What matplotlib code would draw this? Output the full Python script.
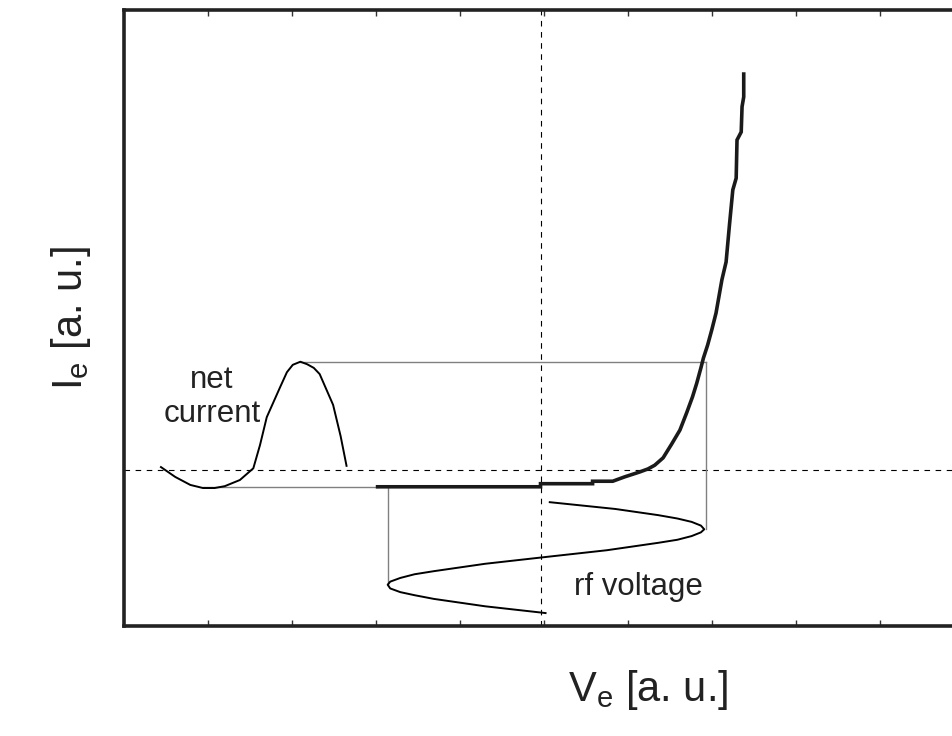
import matplotlib.pyplot as plt

plt.rcParams['font.family'] = ['Liberation Sans', 'DejaVu Sans']
plt.rcParams['mathtext.fontset'] = 'custom'
plt.rcParams['mathtext.rm'] = 'Liberation Sans'

# probe characteristic (thick curve), V and I in arbitrary units
iv_v = [3.02, 4.96, 4.96, 5.58, 5.58, 5.82, 5.96, 6.14, 6.24, 6.32, 6.42, 6.52,
        6.62, 6.70, 6.77, 6.82, 6.87, 6.90, 6.95, 7.00, 7.05, 7.12, 7.17, 7.21,
        7.25, 7.29, 7.30, 7.35, 7.36, 7.38, 7.38]
iv_i = [2.26, 2.26, 2.31, 2.31, 2.35, 2.35, 2.42, 2.50, 2.55, 2.61, 2.73, 2.95,
        3.18, 3.46, 3.72, 3.94, 4.19, 4.35, 4.56, 4.81, 5.08, 5.62, 5.91, 6.51,
        7.08, 7.27, 7.89, 8.02, 8.43, 8.59, 8.96]

# rf voltage (time runs downward)
rf_v = [5.07, 5.85, 6.36, 6.59, 6.76, 6.87, 6.91, 6.87, 6.76, 6.59, 6.36, 5.75,
        5.02, 4.30, 3.69, 3.46, 3.29, 3.17, 3.14, 3.17, 3.29, 3.46, 3.69, 4.30,
        5.02]
rf_t = [2.01, 1.90, 1.80, 1.745, 1.69, 1.63, 1.57, 1.52, 1.46, 1.40, 1.35, 1.23,
        1.12, 1.01, 0.89, 0.84, 0.78, 0.72, 0.67, 0.61, 0.55, 0.50, 0.44, 0.32,
        0.21]

# net current over time (time runs to the right)
net_t = [0.44, 0.61, 0.79, 0.94, 1.08, 1.20, 1.38, 1.54, 1.62, 1.70, 1.86, 1.94,
         2.01, 2.10, 2.18, 2.26, 2.33, 2.49, 2.58, 2.65]
net_i = [2.58, 2.42, 2.29, 2.24, 2.24, 2.27, 2.37, 2.56, 2.94, 3.39, 3.88, 4.12,
         4.24, 4.29, 4.25, 4.19, 4.09, 3.59, 3.08, 2.60]

v_float = 4.96
i_zero = 2.53
i_sat = 2.25
i_peak = 4.29
v_max = 6.93
v_min = 3.14

fig = plt.figure(figsize=(9.53, 7.36), dpi=100)
ax = fig.add_axes([124 / 953, 110 / 736, 1048 / 953, 616 / 736])
ax.set_xlim(0, 12.48)
ax.set_ylim(0, 10)

# dashed reference lines
ax.axhline(i_zero, color='black', lw=0.8, ls=(0, (5, 5)))
ax.axvline(v_float, color='black', lw=0.8, ls=(0, (5, 5)))

# thin grey projection lines
grey = '#808080'
ax.plot([net_t[3], iv_v[0]], [i_sat, i_sat], color=grey, lw=1)
ax.plot([net_t[13], v_max], [i_peak, i_peak], color=grey, lw=1)
ax.plot([v_max, v_max], [i_peak, rf_t[6]], color=grey, lw=1)
ax.plot([v_min, v_min], [i_sat, rf_t[18]], color=grey, lw=1)

ax.plot(iv_v, iv_i, color='#1a1a1a', lw=2.6, solid_joinstyle='miter')
ax.plot(rf_v, rf_t, color='black', lw=1.4)
ax.plot(net_t, net_i, color='black', lw=1.4)

ax.text(1.05, 3.72, 'net\ncurrent', ha='center', va='center', fontsize=22.5,
        color='#222222', linespacing=1.15)
ax.text(6.13, 0.63, 'rf voltage', ha='center', va='center', fontsize=22.5,
        color='#222222')

ax.set_xlabel(r'V$_\mathrm{e}$ [a. u.]', fontsize=30, color='#222222', labelpad=30)
ax.set_ylabel(r'I$_\mathrm{e}$ [a. u.]', fontsize=30, color='#222222', labelpad=22)

ax.set_xticks(range(1, 13))
ax.set_yticks([])
ax.tick_params(axis='x', direction='in', length=4, width=1, top=True,
               labelbottom=False, color='#333333')
for side in ['left', 'top', 'bottom']:
    ax.spines[side].set_linewidth(2.6)
    ax.spines[side].set_color('#222222')
ax.spines['right'].set_visible(False)

fig.savefig('out.png', dpi=100)
